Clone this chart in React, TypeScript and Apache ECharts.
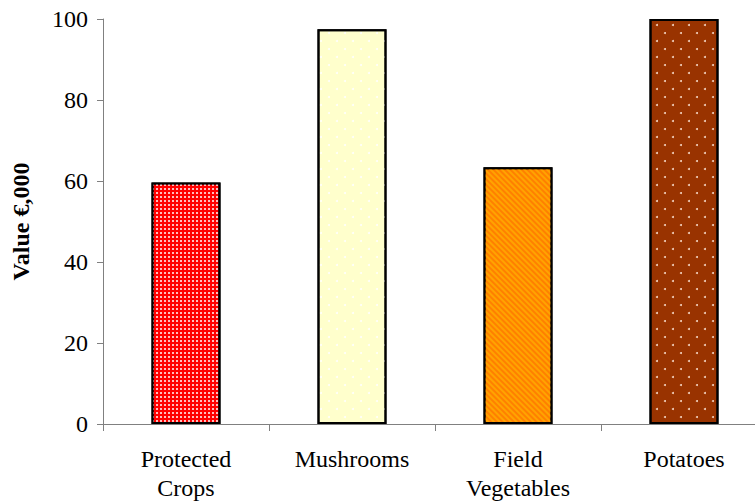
import React, { useEffect, useRef } from "react";
import * as echarts from "echarts";

const categories = ["Protected\nCrops", "Mushrooms", "Field\nVegetables", "Potatoes"];
const values = [59.6, 97.5, 63.4, 100];
const yTicks = { min: 0, max: 100, interval: 20 };

const barColors = ["#FF0000", "#FFFFCC", "#FF8000", "#993300"];
const barDecals: any[] = [
  {
    symbol: "rect",
    symbolSize: 1,
    dashArrayX: [1.2, 1.8],
    dashArrayY: [1.2, 1.8],
    color: "rgba(255,235,235,0.8)",
  },
  {
    symbol: "circle",
    symbolSize: 1,
    dashArrayX: [[2, 13.6], [0, 7.8, 2, 5.8]],
    dashArrayY: [2, 5.8],
    color: "rgba(255,255,255,0.95)",
  },
  {
    symbol: "rect",
    symbolSize: 1,
    dashArrayX: [1, 0],
    dashArrayY: [1.8, 1.8],
    rotation: Math.PI / 4,
    color: "rgba(255,175,0,0.75)",
  },
  {
    symbol: "circle",
    symbolSize: 1,
    dashArrayX: [[2, 13.6], [0, 7.8, 2, 5.8]],
    dashArrayY: [2, 5.8],
    color: "#F2D2C0",
  },
];

const FONT = "'Liberation Serif', 'Times New Roman', serif";

export default function App() {
  const ref = useRef<HTMLDivElement>(null);
  useEffect(() => {
    if (!ref.current) return;
    const chart = echarts.init(ref.current, undefined, { renderer: "svg" });
    chart.setOption({
      animation: false,
      backgroundColor: "#ffffff",
      grid: { left: 103, top: 19, bottom: 79, right: 13 },
      xAxis: {
        type: "category",
        data: categories,
        axisLine: { lineStyle: { color: "#808080", width: 1 } },
        axisTick: { show: true, length: 7, lineStyle: { color: "#808080" } },
        axisLabel: {
          color: "#000",
          fontFamily: FONT,
          fontSize: 24,
          lineHeight: 29,
          margin: 20,
          interval: 0,
        },
      },
      yAxis: {
        type: "value",
        min: yTicks.min,
        max: yTicks.max,
        interval: yTicks.interval,
        name: "Value €,000",
        nameLocation: "middle",
        nameGap: 70,
        nameTextStyle: {
          color: "#000",
          fontFamily: FONT,
          fontSize: 24,
          fontWeight: "bold",
        },
        splitLine: { show: false },
        axisLine: { show: true, lineStyle: { color: "#808080", width: 1 } },
        axisTick: { show: true, length: 6, lineStyle: { color: "#808080" } },
        axisLabel: {
          color: "#000",
          fontFamily: FONT,
          fontSize: 24,
          margin: 15,
        },
      },
      series: [
        {
          type: "bar",
          barWidth: 69,
          data: values.map((v, i) => ({
            value: v,
            itemStyle: {
              color: barColors[i],
              borderColor: "#000",
              borderWidth: 2,
              decal: barDecals[i],
            },
          })),
        },
      ],
    });
    return () => chart.dispose();
  }, []);
  return (
    <div
      style={{
        position: "absolute",
        left: 0,
        top: 0,
        width: 755,
        height: 503,
        overflow: "hidden",
      }}
    >
      <div ref={ref} style={{ width: 780, height: 503 }} />
    </div>
  );
}
